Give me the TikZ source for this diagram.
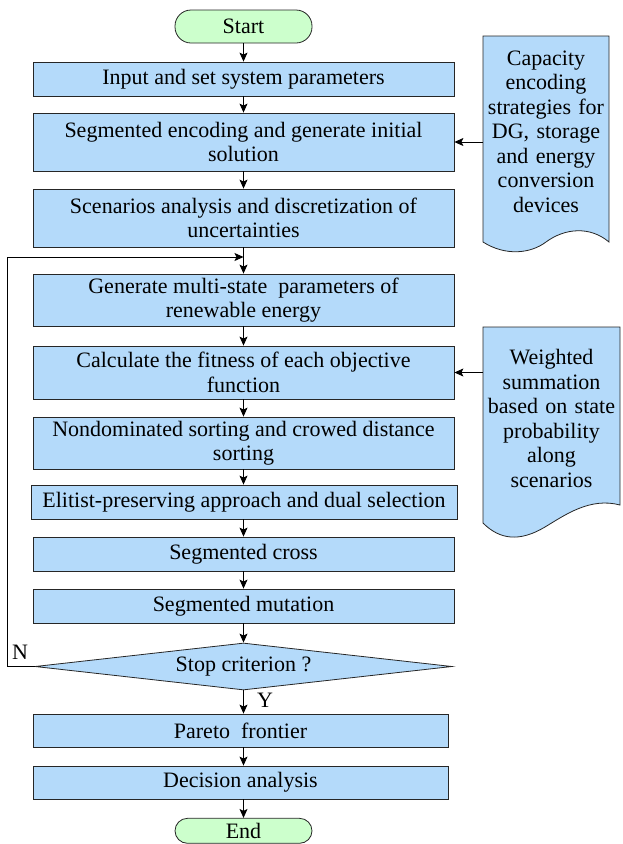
\documentclass[tikz,border=0pt]{standalone}
\usepackage{fontspec}
\setmainfont{Liberation Serif}
\usetikzlibrary{calc,positioning,arrows.meta,shapes}
\definecolor{boxblue}{RGB}{180,218,250}
\definecolor{termgreen}{RGB}{204,255,204}

\begin{document}
\begin{tikzpicture}[x=1pt,y=-1pt,
		font=\fontsize{22}{24.5}\selectfont,
		flowbox/.style={draw=black!85, fill=boxblue, line width=0.8pt, minimum width=421pt, align=center, inner sep=0pt},
		termbox/.style={draw=black!85, fill=termgreen, line width=0.8pt, rounded corners=16pt, minimum width=137pt, minimum height=33pt, inner sep=0pt},
		stopbox/.style={diamond, draw=black!85, fill=boxblue, line width=0.8pt, aspect=8.87, minimum width=417pt, minimum height=47pt, inner sep=0pt},
		docshape/.style={draw=black!85, fill=boxblue, line width=0.8pt},
		doctext/.style={align=center, inner sep=0pt},
		flowarrow/.style={-{Stealth[length=9pt,width=8pt,inset=2pt]}, line width=0.8pt}]
		\useasboundingbox (0,0) rectangle (622,844);

		\node[termbox] (start) at (243.5,26.5) {Start};
		\node[flowbox, minimum height=34pt] (input) at (243.5,79) {Input and set system parameters};
		\node[flowbox, minimum height=58pt] (encode) at (243.5,142) {Segmented encoding and generate initial\\solution};
		\node[flowbox, minimum height=58pt] (scenario) at (243.5,218) {Scenarios analysis and discretization of\\uncertainties};
		\node[flowbox, minimum height=52pt] (multistate) at (243.5,300) {Generate multi-state\ \ parameters of\\renewable energy};
		\node[flowbox, minimum height=53pt] (fitness) at (243.5,372.5) {Calculate the fitness of each objective\\function};
		\node[flowbox, minimum height=52pt] (sorting) at (243.5,443) {Nondominated sorting and crowed distance\\sorting};
		\node[flowbox, minimum height=34pt, minimum width=426pt] (elitist) at (244,502) {Elitist-preserving approach and dual selection};
		\node[flowbox, minimum height=34pt] (cross) at (243.5,554) {Segmented cross};
		\node[flowbox, minimum height=34pt] (mutation) at (243.5,606) {Segmented mutation};
		\node[stopbox] (stop) at (243.5,666.5) {Stop criterion ?};
		\node[flowbox, minimum height=33pt, minimum width=415pt] (pareto) at (240.5,730.5) {Pareto\ \ frontier};
		\node[flowbox, minimum height=33pt, minimum width=415pt] (decision) at (240.5,782.5) {Decision analysis};
		\node[termbox, minimum height=25pt, rounded corners=12.5pt] (end) at (243.5,830.8) {End};

		\node (nlabel) at (20,652) {N};
		\node (ylabel) at (265,700) {Y};

		\draw[docshape] (483,36) -- (609,36) -- (609,242) .. controls (590,226) and (565,228) .. (546,242) .. controls (530,254) and (505,256) .. (483,242) -- cycle;
		\node[doctext, text width=126pt] (capdoc) at (546,131.5) {Capacity encoding strategies for DG, storage and energy conversion devices};

		\draw[docshape] (483,327) -- (620,327) -- (620,505) .. controls (590,497) and (565,515) .. (545,527) .. controls (520,542) and (500,540) .. (483,523) -- cycle;
		\node[doctext, text width=137pt] (sumdoc) at (551.5,418.5) {Weighted summation based on state probability along scenarios};

		\coordinate (loopin) at (243.5,257);

		\draw[flowarrow] (start) -- (input);
		\draw[flowarrow] (input) -- (encode);
		\draw[flowarrow] (encode) -- (scenario);
		\draw[flowarrow] (scenario) -- (multistate);
		\draw[flowarrow] (multistate) -- (fitness);
		\draw[flowarrow] (fitness) -- (sorting);
		\draw[flowarrow] (sorting) -- (sorting.south |- elitist.north);
		\draw[flowarrow] (elitist.south -| cross.north) -- (cross);
		\draw[flowarrow] (cross) -- (mutation);
		\draw[flowarrow] (mutation) -- (stop);
		\draw[flowarrow] (stop.south) -- (stop.south |- pareto.north);
		\draw[flowarrow] (pareto.south -| stop.south) -- (decision.north -| stop.south);
		\draw[flowarrow] (decision.south -| end.north) -- (end.north);
		\draw[flowarrow] (stop.west) -- ++(-27,0) |- (loopin);
		\draw[flowarrow] (capdoc.west |- encode.east) -- (encode.east);
		\draw[flowarrow] (sumdoc.west |- fitness.east) -- (fitness.east);
	\end{tikzpicture}
\end{document}
